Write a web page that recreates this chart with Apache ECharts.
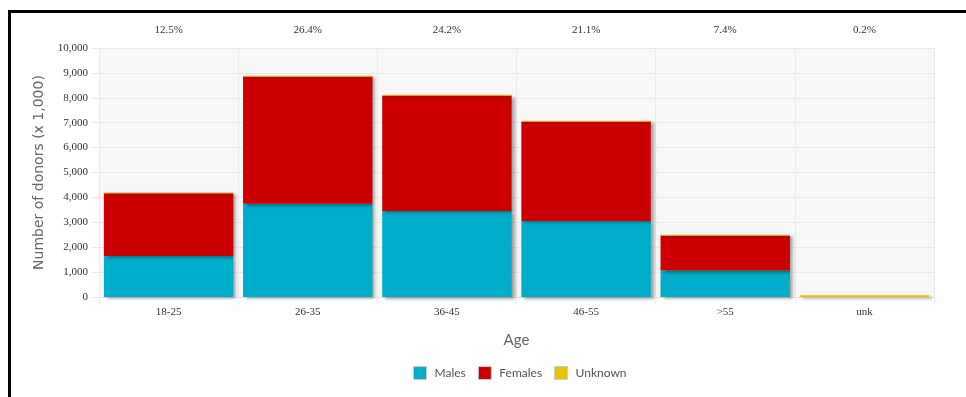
<!DOCTYPE html>
<html>
<head>
    <meta charset="utf-8">
    <title>Donors by age</title>
    <style>
        html, body { margin: 0; padding: 0; background: #fff; }
        #chart { width: 966px; height: 397px; }
    </style>
</head>
<body>
    <div id="chart"></div>
    <script src="https://cdn.jsdelivr.net/npm/echarts@6/dist/echarts.min.js"></script>
    <script>
        // data (x 1,000 donors)
        var ageGroups = ['18-25', '26-35', '36-45', '46-55', '>55', 'unk'];
        var shares = ['12.5%', '26.4%', '24.2%', '21.1%', '7.4%', '0.2%'];
        var males = [1650, 3750, 3450, 3050, 1060, 0];
        var females = [2520, 5110, 4640, 4000, 1410, 0];
        var unknown = [30, 30, 30, 30, 30, 70];

        var tickFont = 'Liberation Serif';
        var sansFont = 'Lato';

        function barSeries(name, data, color) {
            return {
                name: name,
                type: 'bar',
                stack: 'age',
                data: data,
                barCategoryGap: '7%',
                itemStyle: {
                    color: color,
                    shadowColor: 'rgba(0,0,0,0.35)',
                    shadowBlur: 3,
                    shadowOffsetX: 3,
                    shadowOffsetY: 2
                }
            };
        }

        var myChart = echarts.init(document.getElementById('chart'));
        var option = {
            animation: false,
            backgroundColor: '#fff',
            grid: {
                left: 99, right: 32, top: 48, bottom: 100,
                show: true, backgroundColor: '#f8f8f8', borderWidth: 0
            },
            legend: {
                left: 408, top: 361,
                icon: 'rect', itemWidth: 13, itemHeight: 13, itemGap: 12,
                itemStyle: { borderColor: '#cccccc', borderWidth: 1 },
                textStyle: { fontFamily: sansFont, fontSize: 12, color: '#555', padding: [0, 0, 0, 3] },
                data: ['Males', 'Females', 'Unknown']
            },
            xAxis: [{
                type: 'category',
                data: ageGroups,
                position: 'bottom',
                name: 'Age',
                nameLocation: 'middle',
                nameGap: 36,
                nameTextStyle: { fontFamily: sansFont, fontSize: 15, color: '#666' },
                axisLine: { lineStyle: { color: '#e0e0e0' } },
                axisTick: { show: true, length: 8, lineStyle: { color: '#eeeeee' } },
                axisLabel: { fontFamily: tickFont, fontSize: 11, color: '#333', margin: 10 },
                splitLine: { show: true, lineStyle: { color: '#eaeaea' } }
            }, {
                type: 'category',
                data: shares,
                position: 'top',
                axisLine: { show: false },
                axisTick: { show: false },
                axisLabel: { fontFamily: tickFont, fontSize: 11, color: '#333', margin: 12 },
                splitLine: { show: false }
            }],
            yAxis: {
                type: 'value',
                min: 0, max: 10000, interval: 1000,
                name: 'Number of donors (x 1,000)',
                nameLocation: 'middle',
                nameGap: 50,
                nameTextStyle: { fontFamily: 'DejaVu Sans', fontSize: 14, color: '#666' },
                axisLine: { show: false },
                axisTick: { show: true, length: 7, lineStyle: { color: '#e6e6e6' } },
                axisLabel: {
                    fontFamily: tickFont, fontSize: 11, color: '#333', margin: 11,
                    formatter: function (v) { return v.toLocaleString('en-US'); }
                },
                splitLine: { lineStyle: { color: '#e8e8e8' } }
            },
            series: [
                barSeries('Males', males, '#00aecb'),
                barSeries('Females', females, '#cc0000'),
                barSeries('Unknown', unknown, '#e8c300')
            ],
            graphic: [
                { type: 'rect', shape: { x: 8, y: 10, width: 958, height: 3 }, style: { fill: '#000' }, z: 100 },
                { type: 'rect', shape: { x: 8, y: 10, width: 3, height: 387 }, style: { fill: '#000' }, z: 100 }
            ]
        };
        myChart.setOption(option);
    </script>
</body>
</html>
